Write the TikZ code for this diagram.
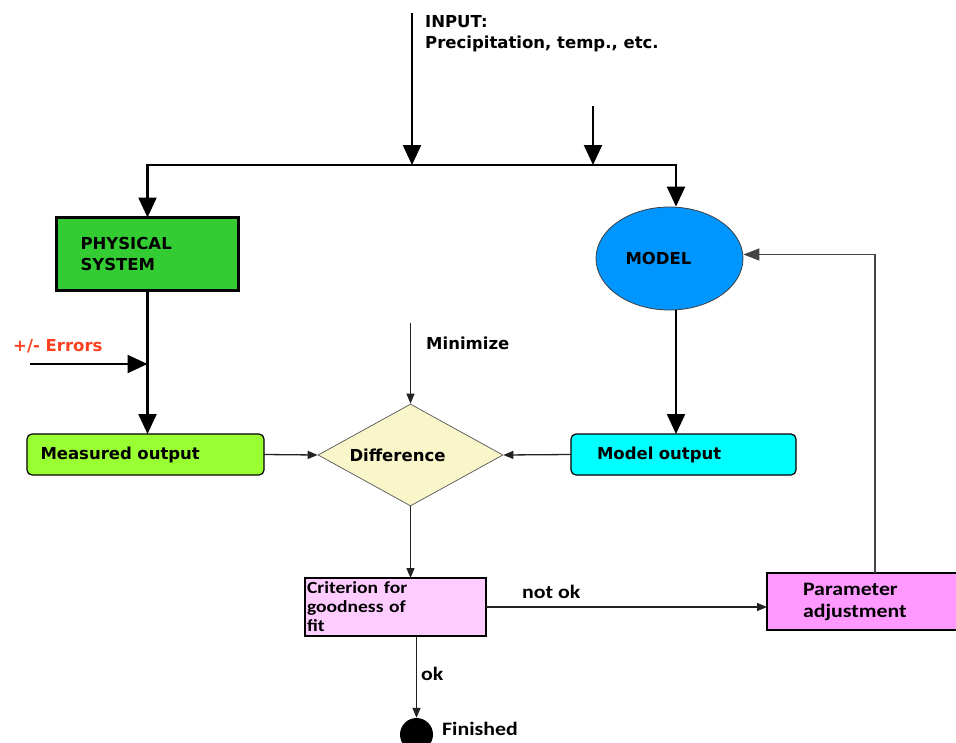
\documentclass[tikz,border=0pt]{standalone}
\usepackage{fontspec}
\setmainfont{DejaVu Sans}
\newfontfamily\cfont[FakeStretch=1.15]{Carlito}
\usetikzlibrary{shapes.geometric,arrows.meta}
\definecolor{physgreen}{HTML}{33CC33}
\definecolor{measgreen}{HTML}{99FF33}
\definecolor{diffyellow}{HTML}{F9F6C9}
\definecolor{modelblue}{HTML}{0096FF}
\definecolor{mcyan}{HTML}{00FFFF}
\definecolor{critpink}{HTML}{FFCCFF}
\definecolor{parampink}{HTML}{FF99FF}
\definecolor{errred}{HTML}{FF4020}
\definecolor{thingrey}{HTML}{222222}
\definecolor{fbgrey}{HTML}{444444}
\begin{document}
\begin{tikzpicture}[x=1pt,y=-1pt,
  vfnt/.style={font=\fontsize{16.5}{21.5}\selectfont\bfseries},
  cfnt/.style={font=\fontsize{19}{22}\selectfont\cfont\bfseries},
  critfnt/.style={font=\fontsize{17}{19}\selectfont\cfont\bfseries},
  box/.style={draw=black, line width=1.2pt, inner sep=0pt, outer sep=0pt, align=left},
  lbl/.style={inner sep=0pt, anchor=base west},
  bigarrow/.style={draw=black, line width=2.3pt, -{Triangle[width=18pt,length=20pt]}},
  thinarrow/.style={draw=thingrey, line width=1.3pt, -{Triangle[width=8pt,length=10pt]}},
  fbarrow/.style={draw=fbgrey, line width=1.5pt, -{Triangle[width=12pt,length=16pt]}}
]
\useasboundingbox (0,0) rectangle (956,742);
\clip (0,0) rectangle (956,742);
\fill[white] (0,0) rectangle (956,742);

% nodes
\node[box, line width=2.3pt, fill=physgreen, minimum width=182pt, minimum height=73pt,
      text width=134pt, vfnt] (phys) at (147.5,254) {PHYSICAL\\SYSTEM};
\node[box, rounded corners=5pt, fill=measgreen, minimum width=237pt, minimum height=41pt,
      text width=210pt, vfnt] (meas) at (145.5,454.5) {Measured output};
\node[ellipse, draw=black!75, line width=0.8pt, fill=modelblue, inner sep=0pt,
      minimum width=147pt, minimum height=103pt,
      label={[vfnt, xshift=-11pt, inner sep=0pt]center:MODEL}] (model) at (669.5,258.5) {};
\node[box, rounded corners=5pt, fill=mcyan, minimum width=225pt, minimum height=41pt,
      text width=173pt, vfnt] (mout) at (683.5,454.5) {Model output};
\node[diamond, aspect=1.8, draw=black!60, line width=0.8pt, fill=diffyellow, inner sep=0pt,
      minimum width=185pt, minimum height=102pt,
      label={[vfnt, xshift=-13pt, inner sep=0pt]center:Difference}] (diff) at (410.5,455) {};
\node[box, fill=critpink, minimum width=181pt, minimum height=58pt,
      text width=177pt, critfnt] (crit) at (395.5,607) {Criterion for\\goodness of\\fit};
\node[box, line width=2.3pt, fill=parampink, minimum width=192pt, minimum height=57pt,
      text width=120pt, cfnt] (param) at (863,601.5) {Parameter\\adjustment};
\node[circle, fill=black, inner sep=0pt, minimum size=33pt] (fin) at (416.5,734.5) {};

% labels
\node[vfnt, align=left, inner sep=0pt, anchor=north west] (inputlbl) at (425,15)
      {INPUT:\\Precipitation, temp., etc.};
\node[vfnt, lbl] (minlbl) at (426,349) {Minimize};
\node[vfnt, lbl, text=errred] (errlbl) at (13,351) {+/- Errors};
\node[cfnt, lbl] (notoklbl) at (522,598) {not ok};
\node[cfnt, lbl] (oklbl) at (421,680) {ok};
\node[cfnt, lbl] (finlbl) at (442,735) {Finished};

% coordinates
\coordinate (inA) at (412,13);
\coordinate (busA) at (412,165);
\coordinate (inB) at (593,106);
\coordinate (busB) at (593,165);
\coordinate (errA) at (30,364);
\coordinate (minA) at (410.5,323);

% connectors
\draw[bigarrow] (busA) -| (phys.north);
\draw[bigarrow] (busA) -| ([xshift=6.5pt]model.north);
\draw[bigarrow] (inA) -- (busA);
\draw[bigarrow] (inB) -- (busB);
\draw[bigarrow] (phys.south) -- (phys.south |- meas.north);
\draw[bigarrow] (errA) -- (errA -| phys.south);
\draw[bigarrow] ([xshift=6.5pt]model.south) -- ([xshift=6.5pt]model.south |- mout.north);
\draw[thinarrow] (meas.east) -- (diff.west);
\draw[thinarrow] (mout.west) -- (diff.east);
\draw[thinarrow] (minA) -- (diff.north);
\draw[thinarrow] (diff.south) -- (diff.south |- crit.north);
\draw[thinarrow] (crit.east) -- (crit.east -| param.west);
\draw[thinarrow] (fin.north |- crit.south) -- (fin.north);
\draw[fbarrow] ([xshift=12pt]param.north) |- ([yshift=4pt]model.east);
\end{tikzpicture}
\end{document}
